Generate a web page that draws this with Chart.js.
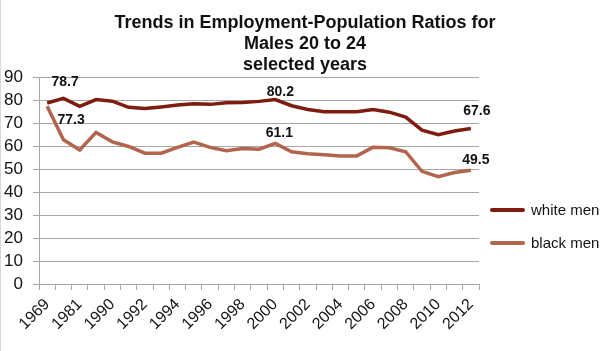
<!DOCTYPE html>
<html>
<head>
<meta charset="utf-8">
<script src="https://cdn.jsdelivr.net/npm/chart.js@4.4.1/dist/chart.umd.min.js"></script>
<style>
  html, body { margin: 0; padding: 0; background: #fff; }
</style>
</head>
<body>
<canvas id="chart" width="607" height="351"></canvas>
<script>
// categories (every other one is labelled on the axis)
const years = ['1969', '1979', '1981', '1989', '1990', '1991', '1992', '1993', '1994', '1995',
  '1996', '1997', '1998', '1999', '2000', '2001', '2002', '2003', '2004', '2005',
  '2006', '2007', '2008', '2009', '2010', '2011', '2012'];

const whiteMen = [78.7, 80.7, 77.2, 80.2, 79.5, 76.8, 76.3, 77.0, 77.8, 78.4,
  78.1, 78.8, 78.9, 79.4, 80.2, 77.5, 75.9, 74.9, 74.9, 74.9,
  75.9, 74.7, 72.6, 66.9, 64.9, 66.5, 67.6];

const blackMen = [77.3, 62.7, 58.3, 65.9, 61.8, 59.8, 56.9, 56.9, 59.4, 61.7,
  59.4, 57.9, 58.9, 58.6, 61.1, 57.5, 56.6, 56.2, 55.7, 55.7,
  59.5, 59.2, 57.5, 49.0, 46.7, 48.5, 49.5];

const yTicks = [0, 10, 20, 30, 40, 50, 60, 70, 80, 90];

// points that carry a value label
const labelledPoints = [0, 14, 26];

const titleLines = ['Trends in Employment-Population Ratios for', 'Males 20 to 24', 'selected years'];

const FONT = '"Liberation Sans", Arial, Helvetica, sans-serif';
const WHITE_COLOR = '#7d1c0f';
const BLACK_COLOR = '#b3644d';
const GRID_COLOR = '#a6a6a6';

// label offsets from the point, per dataset
const labelOffsets = [
  { 0: [18, -21], 14: [5, -7], 26: [6, -17] },
  { 0: [24, 14], 14: [4, -10], 26: [5, -10] }
];

const extras = {
  id: 'extras',
  afterDatasetsDraw(chart) {
    const ctx = chart.ctx;
    ctx.save();
    ctx.font = 'bold 14px ' + FONT;
    ctx.fillStyle = '#111';
    ctx.textAlign = 'center';
    ctx.textBaseline = 'middle';
    chart.data.datasets.forEach((ds, di) => {
      const meta = chart.getDatasetMeta(di);
      labelledPoints.forEach(i => {
        const p = meta.data[i];
        const off = labelOffsets[di][i];
        ctx.fillText(ds.data[i].toFixed(1), p.x + off[0], p.y + off[1]);
      });
    });
    ctx.restore();
  },
  afterDraw(chart) {
    const ctx = chart.ctx;
    ctx.save();
    // title
    ctx.font = 'bold 18px ' + FONT;
    ctx.fillStyle = '#111';
    ctx.textAlign = 'center';
    ctx.textBaseline = 'middle';
    titleLines.forEach((t, i) => ctx.fillText(t, 305, 23 + i * 21));

    // legend
    ctx.font = '15px ' + FONT;
    ctx.textAlign = 'left';
    chart.data.datasets.forEach((ds, i) => {
      const y = 210 + i * 33;
      ctx.strokeStyle = ds.borderColor;
      ctx.lineWidth = 4;
      ctx.lineCap = 'round';
      ctx.beginPath();
      ctx.moveTo(492, y);
      ctx.lineTo(523, y);
      ctx.stroke();
      ctx.fillStyle = '#111';
      ctx.fillText(ds.label, 531, y + 1);
    });

    // faint outer edge on the left
    ctx.strokeStyle = '#d8d8d8';
    ctx.lineWidth = 1;
    ctx.beginPath();
    ctx.moveTo(0.5, 0);
    ctx.lineTo(0.5, 351);
    ctx.stroke();
    ctx.restore();
  }
};

new Chart(document.getElementById('chart'), {
  type: 'line',
  data: {
    labels: years,
    datasets: [
      {
        label: 'white men',
        data: whiteMen,
        borderColor: WHITE_COLOR,
        backgroundColor: WHITE_COLOR,
        borderWidth: 3.5,
        pointRadius: 0,
        tension: 0
      },
      {
        label: 'black men',
        data: blackMen,
        borderColor: BLACK_COLOR,
        backgroundColor: BLACK_COLOR,
        borderWidth: 3.5,
        pointRadius: 0,
        tension: 0
      }
    ]
  },
  options: {
    responsive: false,
    animation: false,
    layout: { padding: { left: 4, right: 128, top: 77, bottom: 0 } },
    plugins: {
      legend: { display: false },
      tooltip: { enabled: false },
      title: { display: false }
    },
    scales: {
      x: {
        offset: true,
        grid: { offset: true, drawOnChartArea: false, tickLength: 6, color: GRID_COLOR },
        border: { color: GRID_COLOR },
        ticks: {
          autoSkip: false,
          minRotation: 45,
          maxRotation: 45,
          padding: 5,
          color: '#111',
          font: { family: FONT, size: 16 },
          callback: (v, i) => (i % 2 === 0 ? years[i] : '')
        },
        afterFit: s => { s.height = 67; }
      },
      y: {
        min: 0,
        max: 90,
        afterBuildTicks: s => { s.ticks = yTicks.map(v => ({ value: v })); },
        grid: { color: GRID_COLOR, tickLength: 6 },
        border: { color: GRID_COLOR },
        ticks: {
          autoSkip: false,
          padding: 10,
          color: '#111',
          font: { family: FONT, size: 17 }
        },
        afterFit: s => { s.width = 35; }
      }
    }
  },
  plugins: [extras]
});
</script>
</body>
</html>
